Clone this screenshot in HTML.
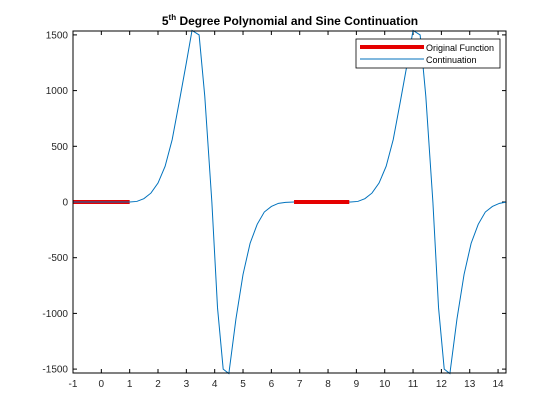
<!DOCTYPE html>
<html><head><meta charset="utf-8"><style>
body{margin:0;background:#fff;}
svg{display:block;font-family:"Liberation Sans",Arial,sans-serif;}
</style></head><body>
<svg id="chart" width="560" height="420">
<rect width="560" height="420" fill="#fff"/>
<text x="290" y="25" text-anchor="middle" font-size="12" font-weight="bold">5<tspan font-size="8" dy="-5">th</tspan><tspan dy="5"> Degree Polynomial and Sine Continuation</tspan></text>
<g id="ticks"></g>
<g id="series"></g>
<rect x="73" y="31" width="433" height="342" fill="none" stroke="#000" stroke-width="1"/>
<g>
<rect x="356" y="39" width="144" height="29" fill="#fff" stroke="#000" stroke-width="0.8"/>
<line x1="360" y1="47" x2="424" y2="47" stroke="#e50000" stroke-width="4"/>
<text x="426" y="51" font-size="9">Original Function</text>
<line x1="360" y1="59" x2="424" y2="59" stroke="#0072bd" stroke-width="1"/>
<text x="426" y="63" font-size="9">Continuation</text>
</g>
</svg>
<script>
const xTicks=[-1,0,1,2,3,4,5,6,7,8,9,10,11,12,13,14];
const yTicks=[-1500,-1000,-500,0,500,1000,1500];
const origX1=[-1,1];
const origX2=[6.8,8.75];
const origY=[0,0];
const contX=[-1,1,1.25,1.5,1.75,2,2.25,2.5,2.75,3.0,3.2,3.45,3.65,3.9,4.1,4.3,4.5,4.75,5.0,5.25,5.5,5.75,6.0,6.25,6.5,6.8,8.8,9.05,9.3,9.55,9.8,10.05,10.3,10.55,10.8,11.0,11.25,11.45,11.7,11.9,12.1,12.3,12.55,12.8,13.05,13.3,13.55,13.8,14.05,14.3];
const contY=[0,0,5,30,80,170,320,560,900,1250,1540,1500,950,0,-950,-1500,-1540,-1050,-650,-370,-200,-90,-40,-12,-3,0,0,5,30,80,170,320,560,900,1250,1540,1500,950,0,-950,-1500,-1540,-1050,-650,-370,-200,-90,-40,-12,0];
const L=73,R=506,T=31,B=373,xmin=-1,xmax=14.28,ymin=-1535,ymax=1535;
const sx=v=>L+(v-xmin)/(xmax-xmin)*(R-L);
const sy=v=>B-(v-ymin)/(ymax-ymin)*(B-T);
const NS="http://www.w3.org/2000/svg";
const tg=document.getElementById('ticks'),sg=document.getElementById('series');
function mk(tag,attrs,parent){const e=document.createElementNS(NS,tag);for(const k in attrs)e.setAttribute(k,attrs[k]);parent.appendChild(e);return e;}
xTicks.forEach(v=>{const x=sx(v);
 const a=mk('line',{x1:x,y1:B,x2:x,y2:B-4,stroke:'#000'},tg);
 
 
 mk('line',{x1:x,y1:T,x2:x,y2:T+4,stroke:'#000'},tg);
 const t=mk('text',{x:x,y:B+14,'text-anchor':'middle','font-size':'10',fill:'#262626'},tg);
 t.textContent=v;
 
 
});
yTicks.forEach(v=>{const y=sy(v);
 const a=mk('line',{x1:L,y1:y,x2:L+4,y2:y,stroke:'#000'},tg);
 
 
 mk('line',{x1:R,y1:y,x2:R-4,y2:y,stroke:'#000'},tg);
 const t=mk('text',{x:L-5,y:y+3.5,'text-anchor':'end','font-size':'10',fill:'#262626'},tg);
 t.textContent=v;
 
 
});
function drawOrig(xs){
 const l=mk('polyline',{points:xs.map((x,i)=>sx(x)+','+sy(origY[i])).join(' '),fill:'none',stroke:'#e50000','stroke-width':4},sg);
 
 
}
drawOrig(origX1);
const c=mk('polyline',{points:contX.map((x,i)=>sx(x)+','+sy(contY[i])).join(' '),fill:'none',stroke:'#0072bd','stroke-width':1},sg);


drawOrig(origX2);
</script>
</body></html>
